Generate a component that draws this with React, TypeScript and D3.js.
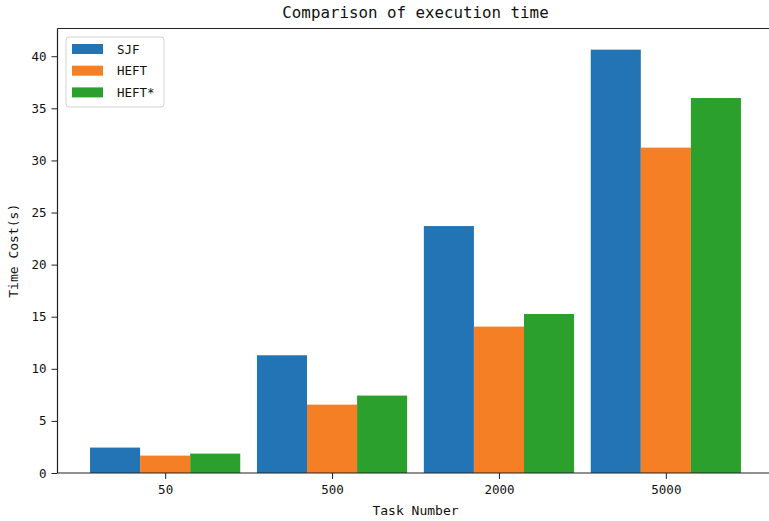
import React, { useEffect, useRef } from "react";
import * as d3 from "d3";

const categories = ["50", "500", "2000", "5000"];
const seriesNames = ["SJF", "HEFT", "HEFT*"];
const sjf = [2.44, 11.3, 23.7, 40.63];
const heft = [1.67, 6.56, 14.05, 31.23];
const heftStar = [1.86, 7.43, 15.26, 35.99];
const yTicks = [0, 5, 10, 15, 20, 25, 30, 35, 40];
const colors = ["#2274b4", "#f47f24", "#2ca02c"];

const W = 769;
const H = 521;
const FONT = "'DejaVu Sans Mono', 'Liberation Mono', monospace";

export default function App() {
  const svgRef = useRef<SVGSVGElement>(null);

  useEffect(() => {
    const svg = d3.select(svgRef.current);
    svg.selectAll("*").remove();

    const series = [sjf, heft, heftStar];
    const barW = 0.3;
    const lo = -1.5 * barW;
    const hi = categories.length - 1 + 1.5 * barW;
    const pad = (hi - lo) * 0.05;
    const left = 57.5, right = 773.5, top = 28.5, bottom = 473;

    const x = d3.scaleLinear().domain([lo - pad, hi + pad]).range([left, right]);
    const yMax = d3.max(series.flat())! * 1.05;
    const y = d3.scaleLinear().domain([0, yMax]).range([bottom, top]);

    // bars
    series.forEach((vals, s) => {
      svg.append("g")
        .selectAll("rect")
        .data(vals)
        .join("rect")
        .attr("x", (_, i) => x(i + (s - 1) * barW - barW / 2))
        .attr("width", x(barW) - x(0))
        .attr("y", (v) => y(v))
        .attr("height", (v) => y(0) - y(v))
        .attr("fill", colors[s]);
    });

    // spines
    const spine = "#222";
    svg.append("line").attr("x1", left).attr("x2", left).attr("y1", top).attr("y2", bottom)
      .attr("stroke", spine).attr("stroke-width", 1.2);
    svg.append("line").attr("x1", left).attr("x2", W).attr("y1", bottom).attr("y2", bottom)
      .attr("stroke", spine).attr("stroke-width", 1.2);
    svg.append("line").attr("x1", left).attr("x2", W).attr("y1", top).attr("y2", top)
      .attr("stroke", spine).attr("stroke-width", 1.2);

    // y axis
    const yAxis = d3.axisLeft(y).tickValues(yTicks).tickSize(6).tickPadding(5);
    const gy = svg.append("g").attr("transform", `translate(${left},0)`).call(yAxis);
    gy.select(".domain").remove();
    gy.selectAll("line").attr("stroke", spine);
    gy.selectAll("text").attr("font-family", FONT).attr("font-size", 12.5).attr("fill", "#111");

    // x axis
    const xAxis = d3.axisBottom(x)
      .tickValues(categories.map((_, i) => i))
      .tickFormat((d) => categories[d as number])
      .tickSize(6).tickPadding(6);
    const gx = svg.append("g").attr("transform", `translate(0,${bottom})`).call(xAxis);
    gx.select(".domain").remove();
    gx.selectAll("line").attr("stroke", spine);
    gx.selectAll("text").attr("font-family", FONT).attr("font-size", 12.5).attr("fill", "#111");

    // labels
    svg.append("text").attr("x", (left + right) / 2).attr("y", 18).attr("text-anchor", "middle")
      .attr("font-family", FONT).attr("font-size", 15.8).attr("fill", "#111")
      .text("Comparison of execution time");
    svg.append("text").attr("x", (left + right) / 2).attr("y", 515).attr("text-anchor", "middle")
      .attr("font-family", FONT).attr("font-size", 13).attr("fill", "#111")
      .text("Task Number");
    svg.append("text").attr("transform", `translate(18,${(top + bottom) / 2}) rotate(-90)`)
      .attr("text-anchor", "middle")
      .attr("font-family", FONT).attr("font-size", 13).attr("fill", "#111")
      .text("Time Cost(s)");

    // legend
    const lg = svg.append("g");
    lg.append("rect").attr("x", 66).attr("y", 37).attr("width", 98).attr("height", 70).attr("rx", 3)
      .attr("fill", "white").attr("fill-opacity", 0.8).attr("stroke", "#d4d4d4");
    seriesNames.forEach((name, s) => {
      const cy = 49 + s * 21.7;
      lg.append("rect").attr("x", 72).attr("y", cy - 5).attr("width", 31).attr("height", 10)
        .attr("fill", colors[s]);
      lg.append("text").attr("x", 117).attr("y", cy + 4.5)
        .attr("font-family", FONT).attr("font-size", 12.5).attr("fill", "#111").text(name);
    });
  }, []);

  return (
    <div style={{ position: "absolute", left: 0, top: 0 }}>
      <svg ref={svgRef} width={W} height={H} style={{ display: "block", background: "white" }} />
    </div>
  );
}
